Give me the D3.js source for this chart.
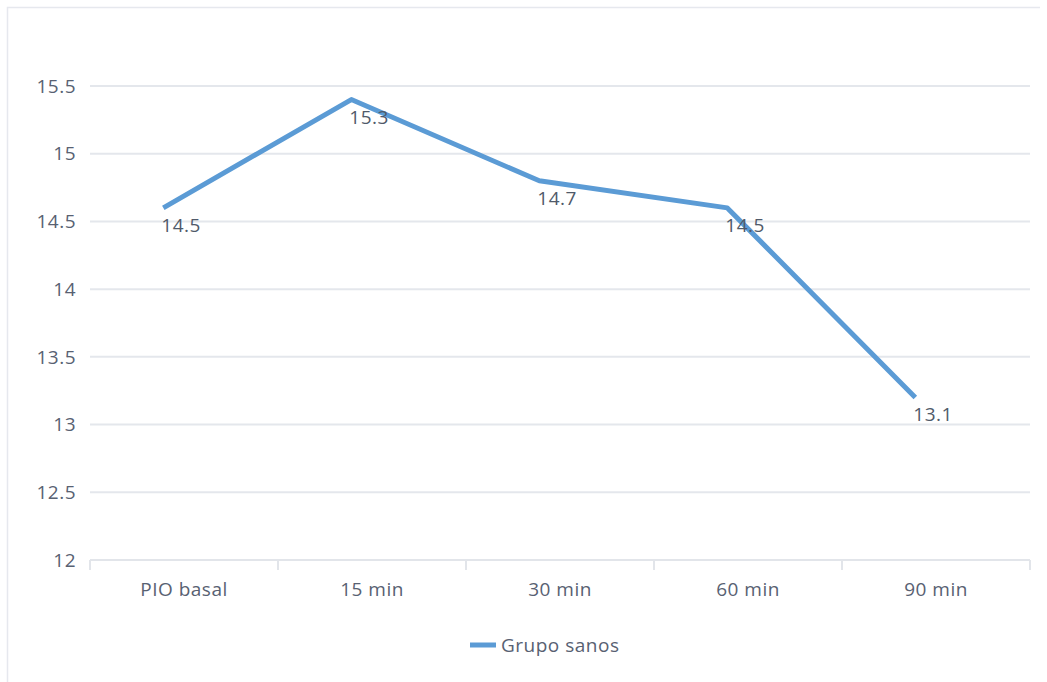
<!DOCTYPE html>
<html>
<head>
<meta charset="utf-8">
<script src="https://cdn.jsdelivr.net/npm/d3@7"></script>
<style>
  body { margin: 0; background: #fff; }
  svg { display: block; font-family: "Open Sans", "Noto Sans", sans-serif; letter-spacing: 0.5px; }
</style>
</head>
<body>
<svg id="chart" width="1047" height="682"></svg>
<script>
const categories = ['PIO basal', '15 min', '30 min', '60 min', '90 min']
const values = [14.6, 15.4, 14.8, 14.6, 13.2]
const labels = ['14.5', '15.3', '14.7', '14.5', '13.1']
const yTicks = [12, 12.5, 13, 13.5, 14, 14.5, 15, 15.5]
const seriesName = 'Grupo sanos'

const svg = d3.select('#chart')
const margin = {top: 86, right: 17, bottom: 122, left: 90}
const width = +svg.attr('width')
const height = +svg.attr('height')
const innerW = width - margin.left - margin.right
const innerH = height - margin.top - margin.bottom
const fs = 19

// chart frame (left + top only visible)
svg.append('path')
   .attr('d', `M7.5,682 V7.5 H1040`)
   .attr('fill', 'none')
   .attr('stroke', '#e6e8ee')
   .attr('stroke-width', 1.5)

const g = svg.append('g').attr('transform', `translate(${margin.left},${margin.top})`)

const x = d3.scaleBand().domain(categories).range([0, innerW])
const y = d3.scaleLinear().domain([12, 15.5]).range([innerH, 0])

// gridlines
g.selectAll('.grid').data(yTicks.slice(1)).enter().append('line')
 .attr('x1', 0).attr('x2', innerW)
 .attr('y1', d => y(d)).attr('y2', d => y(d))
 .attr('stroke', '#e4e7ec').attr('stroke-width', 2)

// y axis labels
g.selectAll('.ylab').data(yTicks).enter().append('text')
 .attr('x', -14).attr('y', d => y(d)).attr('dy', '0.35em')
 .attr('text-anchor', 'end')
 .attr('font-size', fs).attr('fill', '#586172')
 .text(d => d)

// x axis baseline + ticks
const xAxis = g.append('g').attr('transform', `translate(0,${innerH})`)
xAxis.append('line').attr('x1', 0).attr('x2', innerW)
     .attr('stroke', '#e2e5ea').attr('stroke-width', 2)
xAxis.selectAll('.tick').data(d3.range(categories.length + 1)).enter().append('line')
     .attr('x1', i => i * x.step()).attr('x2', i => i * x.step())
     .attr('y1', 0).attr('y2', 10)
     .attr('stroke', '#e2e5ea').attr('stroke-width', 2)
xAxis.selectAll('.xlab').data(categories).enter().append('text')
     .attr('x', d => x(d) + x.bandwidth() / 2).attr('y', 36)
     .attr('text-anchor', 'middle')
     .attr('font-size', fs).attr('fill', '#586172')
     .text(d => d)

// series
const px = (d, i) => x(categories[i]) + x.bandwidth() * 0.39
const line = d3.line().x(px).y(d => y(d))
g.append('path').datum(values)
 .attr('d', line)
 .attr('fill', 'none')
 .attr('stroke', '#5b9bd5')
 .attr('stroke-width', 5)
 .attr('stroke-linejoin', 'round')

g.selectAll('.dlab').data(values).enter().append('text')
 .attr('x', (d, i) => px(d, i) - 2)
 .attr('y', d => y(d) + 24)
 .attr('font-size', fs).attr('fill', '#505a6a')
 .text((d, i) => labels[i])

// legend
const lg = svg.append('g').attr('transform', 'translate(470,645)')
lg.append('line').attr('x1', 0).attr('x2', 26).attr('y1', 0).attr('y2', 0)
  .attr('stroke', '#5b9bd5').attr('stroke-width', 5)
lg.append('text').attr('x', 31).attr('y', 0).attr('dy', '0.35em')
  .attr('font-size', fs).attr('fill', '#586172')
  .text(seriesName)
</script>
</body>
</html>
